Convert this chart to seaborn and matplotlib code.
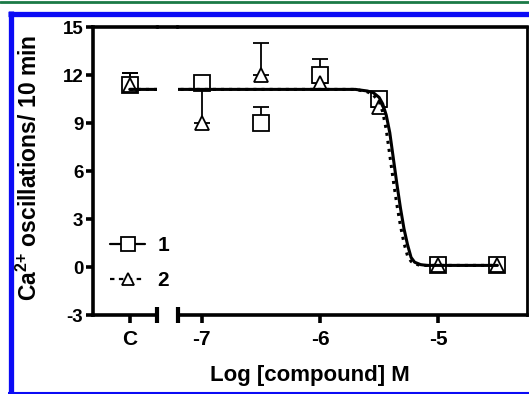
import numpy as np
import pandas as pd
import matplotlib
matplotlib.use("Agg")
import matplotlib.pyplot as plt
import seaborn as sns
from matplotlib.lines import Line2D

# data (C = control, drawn at log -8 on the left segment)
log_conc = [-8.0, -7.0, -6.5, -6.0, -5.5, -5.0, -4.5]
mean_1 = [11.4, 11.5, 9.0, 12.0, 10.5, 0.1, 0.1]
err_1 = [0.75, 0.0, 1.0, 1.0, 0.0, 0.0, 0.0]
mean_2 = [11.4, 9.0, 12.0, 11.5, 10.0, 0.1, 0.1]
err_2 = [0.75, 2.5, 2.0, 0.5, 0.0, 0.0, 0.0]

# fitted curves, read point by point
fit_x = [-8.0, -5.7, -5.6, -5.55, -5.5, -5.47, -5.44, -5.41, -5.38, -5.35,
         -5.32, -5.29, -5.26, -5.23, -5.2, -5.15, -5.1, -4.5]
fit_1 = [11.1, 11.1, 11.0, 10.9, 10.6, 10.2, 9.5, 8.4, 6.8, 5.2,
         3.7, 2.4, 1.4, 0.6, 0.3, 0.15, 0.1, 0.1]
fit_2 = [11.1, 11.1, 10.95, 10.75, 10.35, 9.7, 8.6, 7.0, 5.4, 3.9,
         2.6, 1.5, 0.7, 0.35, 0.2, 0.1, 0.1, 0.1]

y_ticks = [-3, 0, 3, 6, 9, 12, 15]
x_ticks = [-7, -6, -5]
x_tick_labels = ["-7", "-6", "-5"]

pts = pd.DataFrame({"x": log_conc, "m1": mean_1, "e1": err_1, "m2": mean_2, "e2": err_2})
fit = pd.DataFrame({"x": fit_x, "f1": fit_1, "f2": fit_2})

lw_axis = 2.6
sns.set_style("ticks")
plt.rcParams["font.family"] = ["Liberation Sans", "DejaVu Sans"]
plt.rcParams.update({
    "font.weight": "bold",
    "text.color": "black",
    "axes.edgecolor": "black",
    "axes.linewidth": lw_axis,
    "axes.unicode_minus": False,
    "xtick.color": "black",
    "ytick.color": "black",
    "xtick.major.width": lw_axis,
    "ytick.major.width": lw_axis,
    "mathtext.fontset": "custom",
    "mathtext.rm": "Liberation Sans:bold",
    "mathtext.bf": "Liberation Sans:bold",
    "mathtext.it": "Liberation Sans:bold",
})

W, H = 529, 394
fig = plt.figure(figsize=(W / 100, H / 100), dpi=100)
fig.patch.set_facecolor("white")

def px(x0, y0, x1, y1):
    # pixel box -> figure fraction [left, bottom, width, height]
    return [x0 / W, 1 - y1 / H, (x1 - x0) / W, (y1 - y0) / H]

ax1 = fig.add_axes(px(93, 27, 157, 315))
ax2 = fig.add_axes(px(178, 27, 527, 315), sharey=ax1)

for ax in (ax1, ax2):
    ax.set_facecolor("none")
    # error bars (upper only), then markers, then curves
    ax.errorbar(pts.x, pts.m1, yerr=[np.zeros(len(pts)), pts.e1], fmt="none",
                ecolor="black", elinewidth=1.3, capsize=5.8, capthick=1.3, zorder=2)
    ax.errorbar(pts.x, pts.m2, yerr=[np.zeros(len(pts)), pts.e2], fmt="none",
                ecolor="black", elinewidth=1.3, capsize=5.8, capthick=1.3, zorder=2)
    ax.plot(pts.x, pts.m1, ls="none", marker="s", ms=11, mfc="white", mec="black", mew=1.3, zorder=3)
    ax.plot(pts.x, pts.m2, ls="none", marker="^", ms=10, mfc="white", mec="black", mew=1.3, zorder=3)
    sns.lineplot(data=fit, x="x", y="f1", ax=ax, color="black", lw=2.2, zorder=4, sort=False)
    sns.lineplot(data=fit, x="x", y="f2", ax=ax, color="black", lw=2.2, ls=":", zorder=4, sort=False)
    ax.set_xlabel("")
    ax.set_ylabel("")
    for side in ("top", "bottom", "left"):
        ax.spines[side].set_linewidth(lw_axis)
        ax.spines[side].set_color("black")
    ax.tick_params(axis="x", length=6, width=lw_axis, labelsize=15, pad=5, colors="black")
    ax.tick_params(axis="y", length=5, width=lw_axis, labelsize=13.5, pad=2, colors="black")

ax1.set_ylim(-3, 15)
ax1.set_yticks(y_ticks)
ax1.set_xlim(-8.31, -7.77)
ax1.set_xticks([-8.0])
ax1.set_xticklabels(["C"])
ax1.spines["right"].set_visible(False)

ax2.set_xlim(-7.2, -4.25)
ax2.set_xticks(x_ticks)
ax2.set_xticklabels(x_tick_labels)
ax2.spines["left"].set_visible(False)
ax2.spines["right"].set_linewidth(2.0)
ax2.spines["right"].set_color("black")
ax2.tick_params(axis="y", left=False, labelleft=False)

# break caps at the ends of the two x segments
ax1.plot([1], [0], transform=ax1.transAxes, marker="|", ms=11, mew=3, color="black", clip_on=False)
ax2.plot([0], [0], transform=ax2.transAxes, marker="|", ms=11, mew=3, color="black", clip_on=False)

# top border runs across the break
fig.add_artist(Line2D([157 / W, 178 / W], [1 - 27 / H, 1 - 27 / H], color="black", lw=lw_axis))

# labels
fig.text(310 / W, 1 - 375 / H, "Log [compound] M", ha="center", va="center", fontsize=16, fontweight="bold")
fig.text(29 / W, 1 - 168 / H, r"Ca$^{\mathbf{2}{\mathbf{+}}}$ oscillations/ 10 min", rotation=90,
         ha="center", va="center", fontsize=16.5, fontweight="bold")

handles = [
    Line2D([], [], color="black", lw=1.6, marker="s", ms=10, mfc="white", mec="black", mew=1.3),
    Line2D([], [], color="black", lw=1.6, ls=(0, (2, 2)), marker="^", ms=9, mfc="white", mec="black", mew=1.3),
]
ax1.legend(handles, ["1", "2"], loc="center left", bbox_to_anchor=(0.1, 0.18), frameon=False,
           borderpad=0, handlelength=1.7, handletextpad=0.6, labelspacing=0.75,
           prop={"size": 15, "weight": "bold"})

# page decorations: green rule on top, blue frame
fig.add_artist(Line2D([0, 1], [1 - 1.5 / H, 1 - 1.5 / H], color="#1b7a46", lw=2))
blue = "#0b0bf5"
fig.add_artist(Line2D([10.5 / W, 10.5 / W], [1 - 11 / H, 1 - 393 / H], color=blue, lw=3.8, solid_capstyle="butt"))
fig.add_artist(Line2D([8 / W, 1], [1 - 13.5 / H, 1 - 13.5 / H], color=blue, lw=3.8, solid_capstyle="butt"))
fig.add_artist(Line2D([8 / W, 1], [1 - 392.5 / H, 1 - 392.5 / H], color=blue, lw=1.5, solid_capstyle="butt"))

fig.savefig("out.png", dpi=100)
